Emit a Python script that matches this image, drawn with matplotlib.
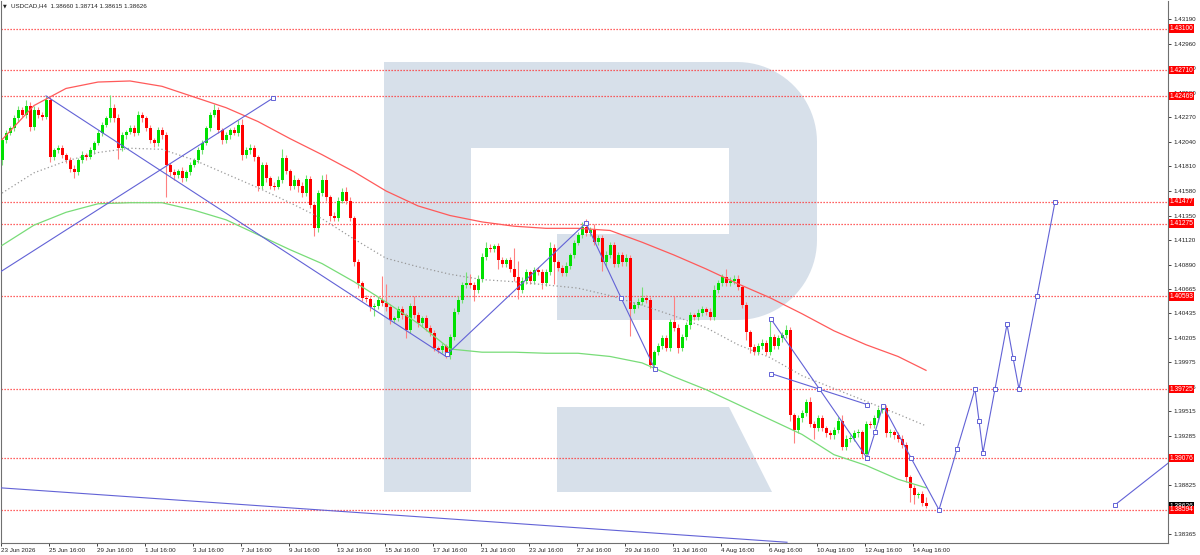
import numpy as np
import matplotlib.pyplot as plt
import matplotlib.transforms as mtransforms
from matplotlib.patches import Polygon

plt.rcParams['font.family'] = ['Liberation Sans', 'DejaVu Sans']

# ---------------- data ----------------
symbol = 'USDCAD,H4'
last_ohlc = ['1.38660', '1.38714', '1.38615', '1.38626']

first_open = 1.4187
closes = [
    1.4206, 1.4212, 1.4217, 1.4226, 1.4234, 1.4229, 1.4238, 1.4218, 1.4234, 1.4229,
    1.4227, 1.4243, 1.4190, 1.4196, 1.4198, 1.4192, 1.4187, 1.4179, 1.4176, 1.4187,
    1.4192, 1.4190, 1.4196, 1.4203, 1.4212, 1.4220, 1.4226, 1.4236, 1.4226, 1.4198,
    1.4210, 1.4213, 1.4217, 1.4212, 1.4229, 1.4226, 1.4217, 1.4206, 1.4203, 1.4215,
    1.4210, 1.4182, 1.4176, 1.4173, 1.4177, 1.4170, 1.4176, 1.4182, 1.4187, 1.4196,
    1.4203, 1.4217, 1.4229, 1.4234, 1.4215, 1.4206, 1.4210, 1.4215, 1.4212, 1.4220,
    1.4192, 1.4196, 1.4198, 1.4190, 1.4163, 1.4182, 1.4170, 1.4163, 1.4162, 1.4168,
    1.4189, 1.4177, 1.4163, 1.4168, 1.4163, 1.4156, 1.4169, 1.4145, 1.4123, 1.4156,
    1.4168, 1.4152, 1.4135, 1.4133, 1.4149, 1.4157, 1.4149, 1.4133, 1.4091, 1.4072,
    1.4058, 1.4057, 1.4049, 1.4050, 1.4056, 1.4053, 1.4049, 1.4037, 1.4039, 1.4047,
    1.4042, 1.4028, 1.4050, 1.4042, 1.4034, 1.4039, 1.4030, 1.4025, 1.4011, 1.4009,
    1.4013, 1.4004, 1.4021, 1.4045, 1.4056, 1.4070, 1.4072, 1.4070, 1.4065, 1.4076,
    1.4096, 1.4105, 1.4104, 1.4106, 1.4093, 1.4090, 1.4093, 1.4085, 1.4077, 1.4065,
    1.4074, 1.4082, 1.4074, 1.4084, 1.4082, 1.4072, 1.4082, 1.4105, 1.4091, 1.4086,
    1.4081, 1.4088, 1.4098, 1.4109, 1.4117, 1.4124, 1.4119, 1.4121, 1.4110, 1.4114,
    1.4091, 1.4098, 1.4107, 1.4090, 1.4098, 1.4091, 1.4095, 1.4047, 1.4051, 1.4054,
    1.4058, 1.4056, 1.3995, 1.4007, 1.4013, 1.4020, 1.4011, 1.4035, 1.4030, 1.4011,
    1.4021, 1.4032, 1.4042, 1.4040, 1.4044, 1.4047, 1.4045, 1.4040, 1.4065, 1.4072,
    1.4077, 1.4072, 1.4074, 1.4076, 1.4068, 1.4051, 1.4026, 1.4012, 1.4007, 1.4013,
    1.4016, 1.4007, 1.4021, 1.4013, 1.4020, 1.4023, 1.4028, 1.3948, 1.3934, 1.3945,
    1.3950, 1.3960, 1.3940, 1.3936, 1.3945, 1.3936, 1.3931, 1.3929, 1.3934, 1.3943,
    1.3918, 1.3926, 1.3927, 1.3931, 1.3932, 1.3912, 1.3940, 1.3939, 1.3945, 1.3953,
    1.3955, 1.3931, 1.3932, 1.3929, 1.3926, 1.3920, 1.3890, 1.3880, 1.3873, 1.3874,
    1.3866, 1.38626,
]

# wick lengths beyond the body, in pips
wick_up = [
    2, 3, 2, 3, 4, 3, 5, 3, 4, 3,
    3, 4, 3, 2, 3, 3, 2, 3, 3, 2,
    3, 2, 3, 2, 3, 3, 2, 12, 3, 4,
    3, 2, 3, 3, 4, 3, 2, 3, 2, 3,
    3, 3, 2, 3, 2, 3, 2, 3, 2, 3,
    3, 2, 3, 5, 3, 2, 3, 2, 3, 4,
    5, 3, 4, 3, 2, 3, 3, 2, 3, 4,
    8, 3, 2, 5, 2, 3, 4, 3, 2, 3,
    5, 6, 2, 3, 3, 4, 5, 3, 2, 3,
    2, 3, 2, 3, 3, 22, 18, 3, 2, 3,
    3, 2, 3, 10, 3, 2, 3, 2, 3, 2,
    3, 2, 3, 3, 4, 3, 10, 8, 3, 3,
    4, 5, 3, 2, 3, 3, 2, 3, 20, 15,
    3, 3, 2, 3, 3, 3, 3, 5, 3, 2,
    3, 3, 2, 3, 3, 5, 8, 3, 6, 3,
    3, 4, 3, 3, 3, 3, 4, 3, 3, 4,
    10, 3, 3, 2, 3, 3, 3, 3, 25, 3,
    3, 3, 3, 2, 3, 3, 2, 3, 5, 3,
    3, 8, 3, 3, 3, 2, 3, 2, 3, 3,
    3, 2, 15, 3, 3, 3, 4, 3, 2, 3,
    3, 3, 5, 3, 3, 3, 2, 3, 3, 3,
    5, 3, 2, 3, 3, 2, 3, 3, 3, 3,
    2, 3, 3, 2, 3, 3, 3, 2, 3, 2,
    3, 5.4,
]
wick_dn = [
    5, 3, 2, 3, 3, 2, 3, 4, 3, 3,
    3, 2, 5, 3, 2, 3, 3, 3, 6, 3,
    3, 3, 2, 3, 2, 3, 2, 3, 3, 10,
    3, 3, 2, 3, 2, 3, 3, 3, 4, 3,
    3, 30, 4, 5, 3, 4, 3, 3, 2, 3,
    3, 2, 3, 2, 3, 4, 3, 3, 2, 3,
    5, 3, 3, 4, 5, 3, 4, 3, 3, 2,
    3, 3, 4, 3, 6, 4, 3, 3, 7, 3,
    3, 3, 5, 3, 3, 2, 3, 3, 3, 5,
    3, 3, 3, 8, 3, 3, 3, 4, 3, 3,
    4, 8, 3, 3, 3, 3, 3, 3, 3, 3,
    3, 2, 3, 3, 2, 3, 3, 3, 10, 3,
    3, 3, 3, 3, 8, 3, 3, 3, 3, 8,
    3, 3, 3, 3, 3, 6, 3, 3, 20, 3,
    3, 3, 3, 3, 2, 3, 3, 3, 3, 3,
    8, 3, 3, 3, 3, 3, 3, 25, 3, 3,
    3, 3, 3, 3, 3, 3, 3, 3, 3, 5,
    3, 3, 3, 3, 3, 3, 3, 3, 3, 3,
    3, 3, 3, 3, 3, 3, 8, 6, 3, 3,
    3, 3, 3, 3, 3, 3, 3, 5, 12, 3,
    3, 3, 3, 10, 3, 3, 3, 3, 3, 3,
    3, 3, 3, 3, 3, 4, 3, 3, 3, 3,
    3, 3, 3, 3, 3, 3, 5, 13, 8, 3,
    3, 1.1,
]

# moving averages, read every 8 bars plus the last bar
ma_idx = list(range(0, 225, 8)) + [231]
ma_red = [1.4206, 1.4238, 1.4254, 1.4260, 1.4261, 1.4256, 1.4246, 1.4236, 1.4223, 1.4207,
          1.4192, 1.4176, 1.4158, 1.4144, 1.4135, 1.4129, 1.4125, 1.4123, 1.4123, 1.4121,
          1.4110, 1.4098, 1.4085, 1.4071, 1.4058, 1.4043, 1.4027, 1.4014, 1.4003, 1.3990]
ma_green = [1.4107, 1.4126, 1.4138, 1.4146, 1.4147, 1.4147, 1.4140, 1.4131, 1.4117, 1.4103,
            1.4090, 1.4073, 1.4054, 1.4034, 1.4010, 1.4007, 1.4007, 1.4006, 1.4006, 1.4003,
            1.3997, 1.3984, 1.3972, 1.3958, 1.3944, 1.3930, 1.3911, 1.3901, 1.3888, 1.3880]
ma_gray = [1.4156, 1.4175, 1.4186, 1.4194, 1.4198, 1.4197, 1.4187, 1.4174, 1.4161, 1.4147,
           1.4132, 1.4113, 1.4095, 1.4087, 1.4080, 1.4075, 1.4073, 1.4070, 1.4067, 1.4060,
           1.4051, 1.4041, 1.4030, 1.4014, 1.4002, 1.3985, 1.3973, 1.3961, 1.3949, 1.3938]

levels = [1.43100, 1.42710, 1.42469, 1.41477, 1.41275, 1.40593, 1.39725, 1.39076, 1.38594]
current_price = 1.38626

price_ticks = [1.43190, 1.42960, 1.42730, 1.42500, 1.42270, 1.42040, 1.41810, 1.41580,
               1.41350, 1.41120, 1.40890, 1.40665, 1.40435, 1.40205, 1.39975, 1.39745,
               1.39515, 1.39285, 1.39055, 1.38825, 1.38595, 1.38365]
# the ticks sitting right under a level label are not readable in the original
hidden_ticks = [1.39055, 1.38595]

time_labels = ['23 Jun 2026', '25 Jun 16:00', '29 Jun 16:00', '1 Jul 16:00', '3 Jul 16:00',
               '7 Jul 16:00', '9 Jul 16:00', '13 Jul 16:00', '15 Jul 16:00', '17 Jul 16:00',
               '21 Jul 16:00', '23 Jul 16:00', '27 Jul 16:00', '29 Jul 16:00', '31 Jul 16:00',
               '4 Aug 16:00', '6 Aug 16:00', '10 Aug 16:00', '12 Aug 16:00', '14 Aug 16:00']
time_idx = list(range(0, 229, 12))

# hand-drawn lines: (bar index, price)
down_idx, down_px = [11, 111], [1.4247, 1.4003]
up_idx, up_px = [-0.5, 67.75], [1.4082, 1.4245]
swing_idx = [111.25, 146, 154.75, 163.25]
swing_px = [1.4005, 1.4128, 1.4058, 1.3991]
bottom_idx, bottom_px = [-0.5, 196.25], [1.3880, 1.3829]
tri_a_idx, tri_a_px = [192.25, 216.25], [1.4038, 1.3908]
tri_b_idx, tri_b_px = [192.25, 216.25], [1.3987, 1.3958]
cross_idx, cross_px = 204.25, 1.39725
fc_idx = [216.25, 218.25, 220.25, 227.25, 234.25, 238.75, 243.25, 244.25, 245.25,
          248.25, 251.25, 252.75, 254.25, 258.75, 263.25]
fc_px = [1.3908, 1.3932, 1.3957, 1.3908, 1.38594, 1.3916, 1.39725, 1.3943, 1.3913,
         1.39725, 1.4033, 1.4002, 1.39725, 1.40593, 1.41477]
tail_idx, tail_px = [278.25, 291.5], [1.3864, 1.3903]

# ---------------- figure ----------------
fig = plt.figure(figsize=(12, 5.55), dpi=100)
fig.patch.set_facecolor('white')

# watermark "R" behind the chart (figure pixels)
bg = fig.add_axes([0, 0, 1, 1])
bg.set_xlim(0, 1200)
bg.set_ylim(555, 0)
bg.set_axis_off()


def arc(cx, cy, r, a0, a1, n=24):
    t = np.radians(np.linspace(a0, a1, n))
    return [(cx + r * np.cos(a), cy + r * np.sin(a)) for a in t]


r_color = '#d7e0ea'
r_body = ([(384, 62), (737, 62)] + arc(737, 142, 80, -90, 0) + arc(737, 240, 80, 0, 90)
          + [(557, 320), (557, 234), (729, 234), (729, 148), (471, 148), (471, 492), (384, 492)])
bg.add_patch(Polygon(r_body, closed=True, fc=r_color, ec='none'))
bg.add_patch(Polygon([(557, 407), (729, 407), (772, 492), (557, 492)], closed=True,
                     fc=r_color, ec='none'))

ax = fig.add_axes([1 / 1200, 12 / 555, 1167 / 1200, 542 / 555])
ax.set_zorder(1)
ax.set_facecolor('none')
ax.set_xlim(-0.25, 291.5)
ax.set_ylim(1.38283, 1.43359)

# levels
for lv in levels:
    ax.axhline(lv, color='#ff3030', lw=0.9, ls=(0, (1, 1.4)), zorder=2)

# candles
closes_a = np.array(closes)
opens_a = np.concatenate([[first_open], closes_a[:-1]])
highs = np.maximum(opens_a, closes_a) + np.array(wick_up) * 1e-4
lows = np.minimum(opens_a, closes_a) - np.array(wick_dn) * 1e-4
x = np.arange(len(closes_a))
bull = closes_a >= opens_a
bear = ~bull
body_lo = np.minimum(opens_a, closes_a)
body_h = np.maximum(np.abs(closes_a - opens_a), 0.00005)

ax.vlines(x[bull], lows[bull], highs[bull], color='#74e074', lw=0.8, zorder=3)
ax.vlines(x[bear], lows[bear], highs[bear], color='#ff8080', lw=0.8, zorder=3)
ax.bar(x[bull], body_h[bull], bottom=body_lo[bull], width=0.75, color='#00e000', lw=0, zorder=4)
ax.bar(x[bear], body_h[bear], bottom=body_lo[bear], width=0.75, color='#ff0000', lw=0, zorder=4)

# moving averages
ax.plot(ma_idx, ma_red, color='#ff5a5a', lw=0.9, zorder=5)
ax.plot(ma_idx, ma_green, color='#78dc78', lw=0.9, zorder=5)
ax.plot(ma_idx, ma_gray, color='#999999', lw=0.9, ls=(0, (1, 2)), zorder=5)

# drawn lines
blue = '#6262d6'
mk = dict(marker='s', ms=2.4, mfc='white', mec=blue, mew=0.7)
ax.plot(down_idx, down_px, color=blue, lw=0.8, zorder=6)
ax.plot(up_idx, up_px, color=blue, lw=0.8, zorder=6)
ax.plot(up_idx[-1:], up_px[-1:], ls='none', zorder=7, **mk)
ax.plot(swing_idx, swing_px, color=blue, lw=0.8, zorder=6, **mk)
ax.plot(bottom_idx, bottom_px, color=blue, lw=0.8, zorder=6)
ax.plot(tri_a_idx, tri_a_px, color=blue, lw=0.8, zorder=6, **mk)
ax.plot(tri_b_idx, tri_b_px, color=blue, lw=0.8, zorder=6, **mk)
ax.plot([cross_idx], [cross_px], ls='none', zorder=7, **mk)
ax.plot(fc_idx, fc_px, color=blue, lw=0.8, zorder=6, **mk)
ax.plot(tail_idx, tail_px, color=blue, lw=0.8, zorder=6)
ax.plot(tail_idx[:1], tail_px[:1], ls='none', zorder=7, **mk)

# axes styling
for side in ['left', 'bottom', 'right']:
    ax.spines[side].set_color('#707070')
    ax.spines[side].set_linewidth(0.8)
ax.spines['top'].set_visible(False)

ax.yaxis.tick_right()
ax.set_yticks(price_ticks)
ax.set_yticklabels(['' if t in hidden_ticks else f'{t:.5f}' for t in price_ticks])
ax.tick_params(axis='y', length=2.5, width=0.6, labelsize=4.5, pad=1.2,
               colors='#222222')
ax.set_xticks([t - 0.25 for t in time_idx])
ax.set_xticklabels(time_labels)
for lbl in ax.get_xticklabels():
    lbl.set_horizontalalignment('left')
ax.tick_params(axis='x', length=2.5, width=0.6, labelsize=4.5, pad=0.8,
               colors='#222222')

# price labels on the right scale
trans = mtransforms.blended_transform_factory(ax.transAxes, ax.transData)
ax.text(1.0012, current_price, f'{current_price:.5f}', transform=trans, ha='left',
        va='center', fontsize=4.8, color='white', clip_on=False, zorder=9,
        bbox=dict(boxstyle='square,pad=0.1', fc='black', ec='none'))
for lv in levels:
    ax.text(1.0012, lv, f'{lv:.5f}', transform=trans, ha='left', va='center',
            fontsize=4.8, color='white', clip_on=False, zorder=10,
            bbox=dict(boxstyle='square,pad=0.1', fc='#ff0000', ec='none'))

# header
fig.text(3 / 1200, 1 - 6 / 555, '\u25bc', fontsize=3.5, va='center',
         family=['DejaVu Sans'], color='#222222')
fig.text(11 / 1200, 1 - 6 / 555, symbol + '  ' + ' '.join(last_ohlc), fontsize=4.5,
         va='center', color='#222222')

fig.savefig('out.png', dpi=100, facecolor='white')
